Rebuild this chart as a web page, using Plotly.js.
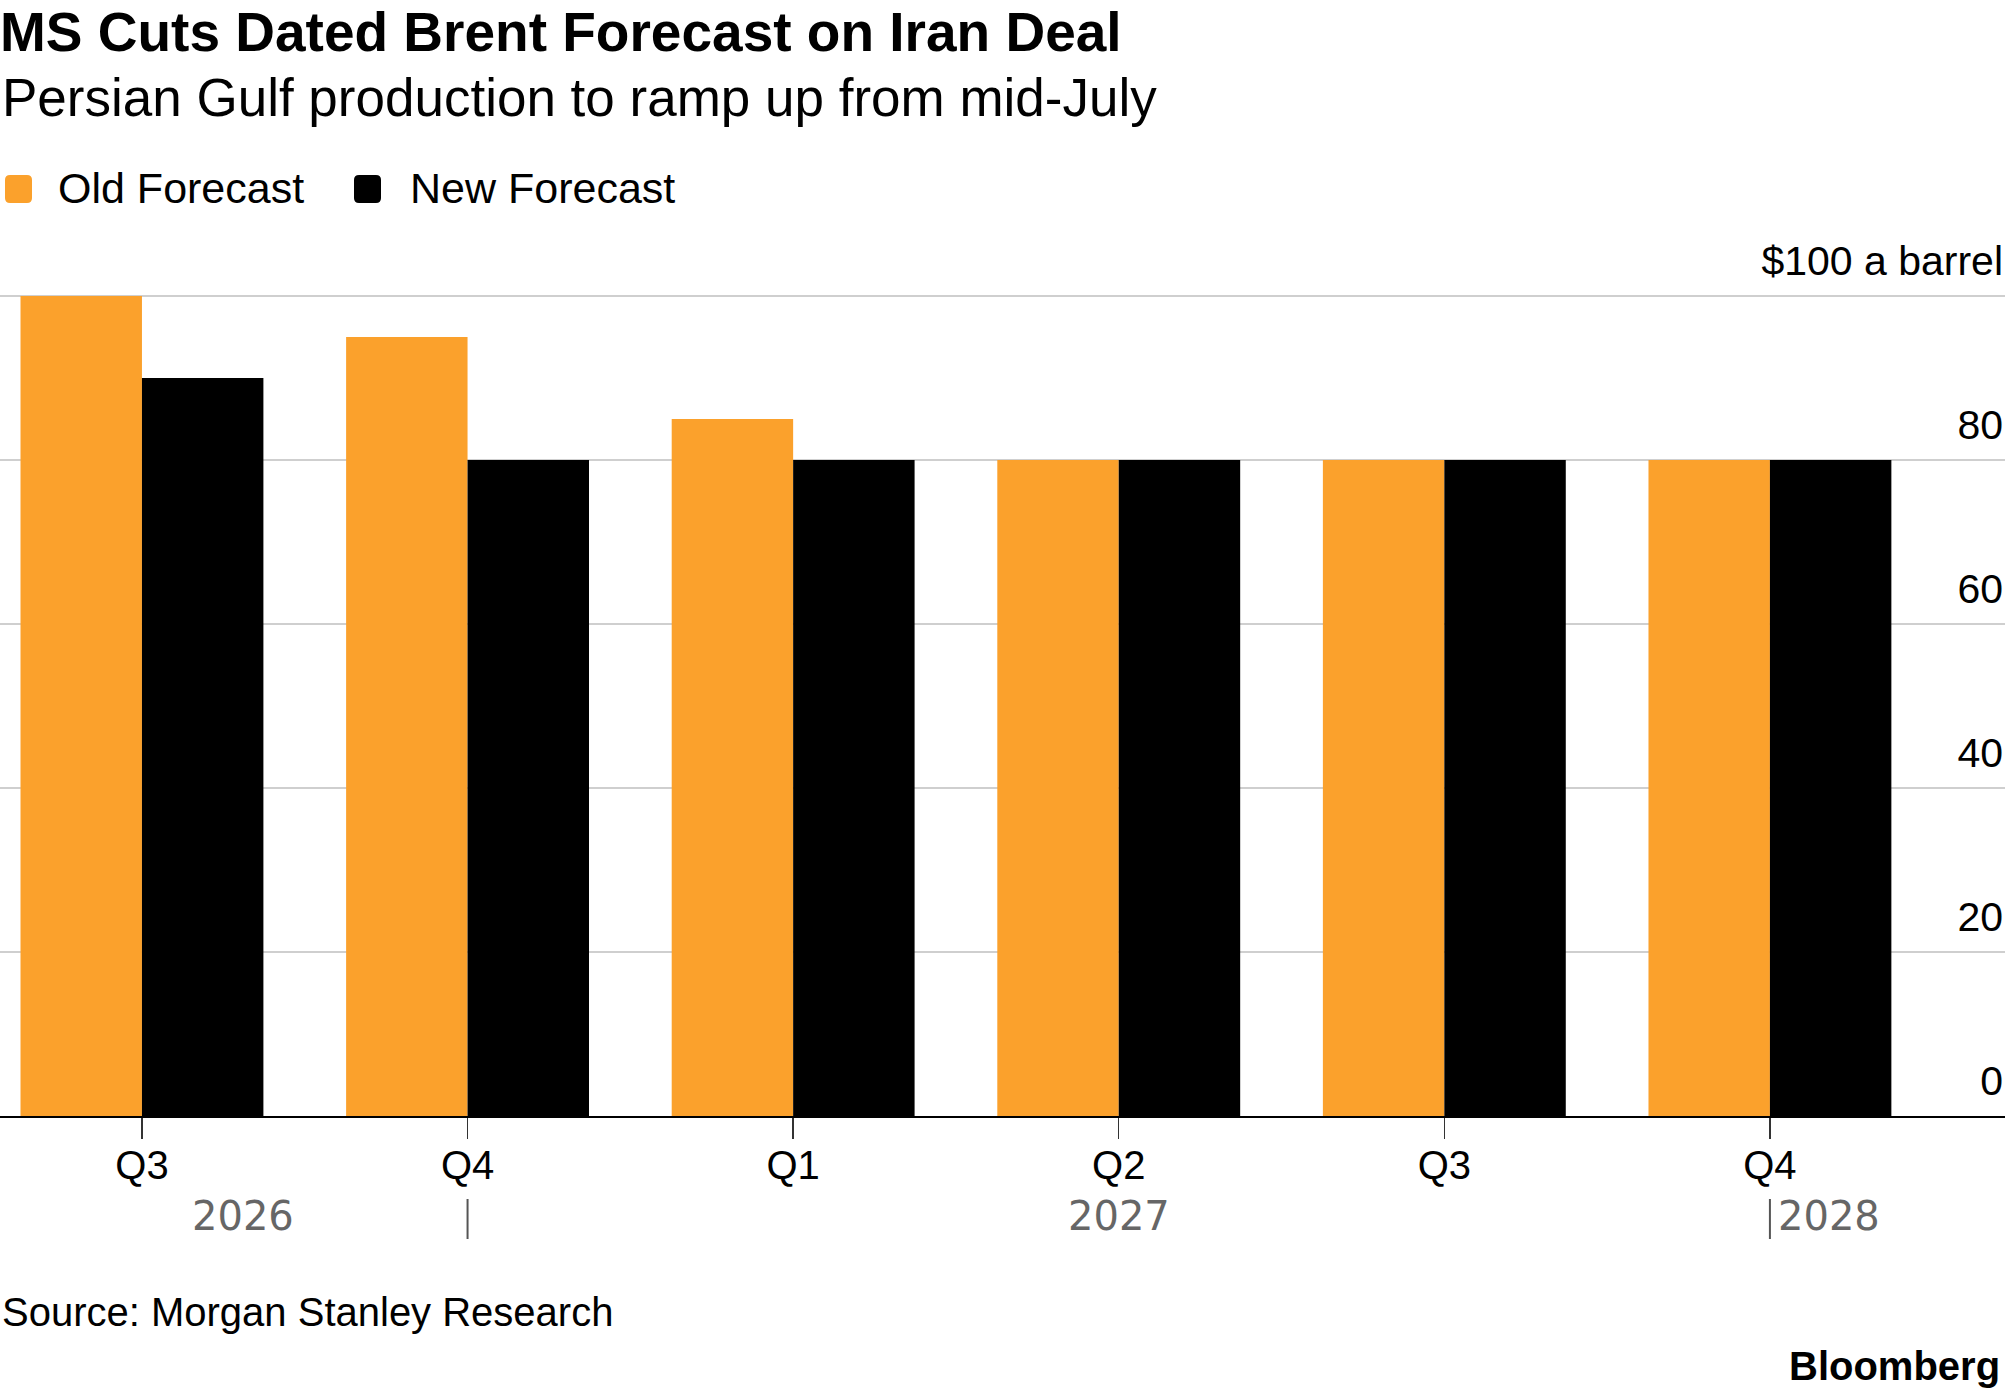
<!DOCTYPE html>
<html>
<head>
<meta charset="utf-8">
<script src="https://cdn.plot.ly/plotly-3.0.1.min.js"></script>
<style>html,body{margin:0;padding:0;background:#fff;}</style>
</head>
<body>
<div id="chart" style="width:2005px;height:1392px;"></div>
<script>
// ---- data ----
var categories = ['Q3 2026', 'Q4 2026', 'Q1 2027', 'Q2 2027', 'Q3 2027', 'Q4 2027'];
var quarterLabels = ['Q3', 'Q4', 'Q1', 'Q2', 'Q3', 'Q4'];
var oldForecast = [100, 95, 85, 80, 80, 80];
var newForecast = [90, 80, 80, 80, 80, 80];
var yTickVals = [0, 20, 40, 60, 80, 100];
var yTickText = ['0', '20', '40', '60', '80', '$100 a barrel'];
var seriesNames = ['Old Forecast', 'New Forecast'];
var yearLabels = ['2026', '2027', '2028'];

// ---- layout helpers (pixel -> paper) ----
var W = 2005, H = 1392;
var mT = 214, mB = 276;
var plotH = H - mT - mB;
function px(x) { return x / W; }
function py(y) { return (H - mB - y) / plotH; }

var ORANGE = '#FBA12C';
var BLACK = '#000000';
var FONT = 'Liberation Sans, Arial, sans-serif';

var traces = [
  {type: 'bar', x: categories, y: oldForecast, name: seriesNames[0],
   marker: {color: ORANGE, line: {width: 0}}, showlegend: false, hoverinfo: 'y'},
  {type: 'bar', x: categories, y: newForecast, name: seriesNames[1],
   marker: {color: BLACK, line: {width: 0}}, showlegend: false, hoverinfo: 'y'}
];

function roundRect(x0, y0, x1, y1, r) {
  var rx = r / W, ry = r / plotH;
  var X0 = px(x0), X1 = px(x1), Y0 = py(y1), Y1 = py(y0);
  return 'M' + (X0 + rx) + ',' + Y0 + ' L' + (X1 - rx) + ',' + Y0 +
    ' Q' + X1 + ',' + Y0 + ' ' + X1 + ',' + (Y0 + ry) +
    ' L' + X1 + ',' + (Y1 - ry) + ' Q' + X1 + ',' + Y1 + ' ' + (X1 - rx) + ',' + Y1 +
    ' L' + (X0 + rx) + ',' + Y1 + ' Q' + X0 + ',' + Y1 + ' ' + X0 + ',' + (Y1 - ry) +
    ' L' + X0 + ',' + (Y0 + ry) + ' Q' + X0 + ',' + Y0 + ' ' + (X0 + rx) + ',' + Y0 + ' Z';
}

var shapes = [
  {type: 'path', xref: 'paper', yref: 'paper', path: roundRect(5, 175, 32, 203, 5),
   fillcolor: ORANGE, line: {width: 0}},
  {type: 'path', xref: 'paper', yref: 'paper', path: roundRect(354, 175, 381, 203, 5),
   fillcolor: BLACK, line: {width: 0}},
  {type: 'line', xref: 'x', yref: 'paper', x0: 1, x1: 1, y0: py(1199), y1: py(1239),
   line: {color: '#555555', width: 2}},
  {type: 'line', xref: 'x', yref: 'paper', x0: 5, x1: 5, y0: py(1199), y1: py(1239),
   line: {color: '#555555', width: 2}}
];

var annotations = [
  {xref: 'paper', yref: 'paper', x: 0, y: py(97), xanchor: 'left', yanchor: 'middle',
   text: 'Persian Gulf production to ramp up from mid-July', showarrow: false,
   font: {family: FONT, size: 53, color: '#000'}},
  {xref: 'paper', yref: 'paper', x: px(56), y: py(188), xanchor: 'left', yanchor: 'middle',
   text: seriesNames[0], showarrow: false, font: {family: FONT, size: 43, color: '#000'}},
  {xref: 'paper', yref: 'paper', x: px(408), y: py(188), xanchor: 'left', yanchor: 'middle',
   text: seriesNames[1], showarrow: false, font: {family: FONT, size: 43, color: '#000'}},
  {xref: 'x', yref: 'paper', x: 0.31, y: py(1216), xanchor: 'center', yanchor: 'middle',
   text: yearLabels[0], showarrow: false, font: {family: 'DejaVu Sans, sans-serif', size: 40, color: '#666'}},
  {xref: 'x', yref: 'paper', x: 3, y: py(1216), xanchor: 'center', yanchor: 'middle',
   text: yearLabels[1], showarrow: false, font: {family: 'DejaVu Sans, sans-serif', size: 40, color: '#666'}},
  {xref: 'x', yref: 'paper', x: 5.02, y: py(1216), xanchor: 'left', yanchor: 'middle',
   text: yearLabels[2], showarrow: false, font: {family: 'DejaVu Sans, sans-serif', size: 40, color: '#666'}},
  {xref: 'paper', yref: 'paper', x: 0, y: py(1312), xanchor: 'left', yanchor: 'middle',
   text: 'Source: Morgan Stanley Research', showarrow: false, font: {family: FONT, size: 40, color: '#000'}},
  {xref: 'paper', yref: 'paper', x: px(2002), y: py(1366), xanchor: 'right', yanchor: 'middle',
   text: '<b>Bloomberg</b>', showarrow: false, font: {family: FONT, size: 40, color: '#000'}}
];

var layout = {
  width: W, height: H,
  margin: {l: 0, r: 0, t: mT, b: mB, pad: 0},
  paper_bgcolor: '#fff', plot_bgcolor: '#fff',
  title: {text: '<b>MS Cuts Dated Brent Forecast on Iran Deal</b>', x: 0, xanchor: 'left',
    xref: 'paper', yref: 'container', y: 1 - 32 / H, yanchor: 'middle',
    font: {family: FONT, size: 55, color: '#000'}},
  barmode: 'group', bargap: 0.254, bargroupgap: 0,
  showlegend: false,
  xaxis: {type: 'category', range: [-0.436, 5.722], tickmode: 'array', tickvals: categories,
    ticktext: quarterLabels, ticks: 'outside', ticklen: 21, tickwidth: 1.5, tickcolor: '#333',
    showline: true, linecolor: '#000', linewidth: 2, showgrid: false, zeroline: false,
    ticklabelstandoff: -8,
    tickfont: {family: FONT, size: 40, color: '#000'}, fixedrange: true},
  yaxis: {range: [0, 110], side: 'left', anchor: 'free', position: 1,
    tickmode: 'array', tickvals: yTickVals, ticktext: yTickText,
    ticklabelposition: 'outside', ticks: '', showgrid: true, gridcolor: '#cfcfcf', gridwidth: 2.5,
    zeroline: false, showline: false, ticklabelshift: -35, ticklabelstandoff: 2,
    tickfont: {family: FONT, size: 41, color: '#000'}, fixedrange: true},
  shapes: shapes,
  annotations: annotations
};

Plotly.newPlot('chart', traces, layout, {displayModeBar: false, staticPlot: true});
</script>
</body>
</html>
